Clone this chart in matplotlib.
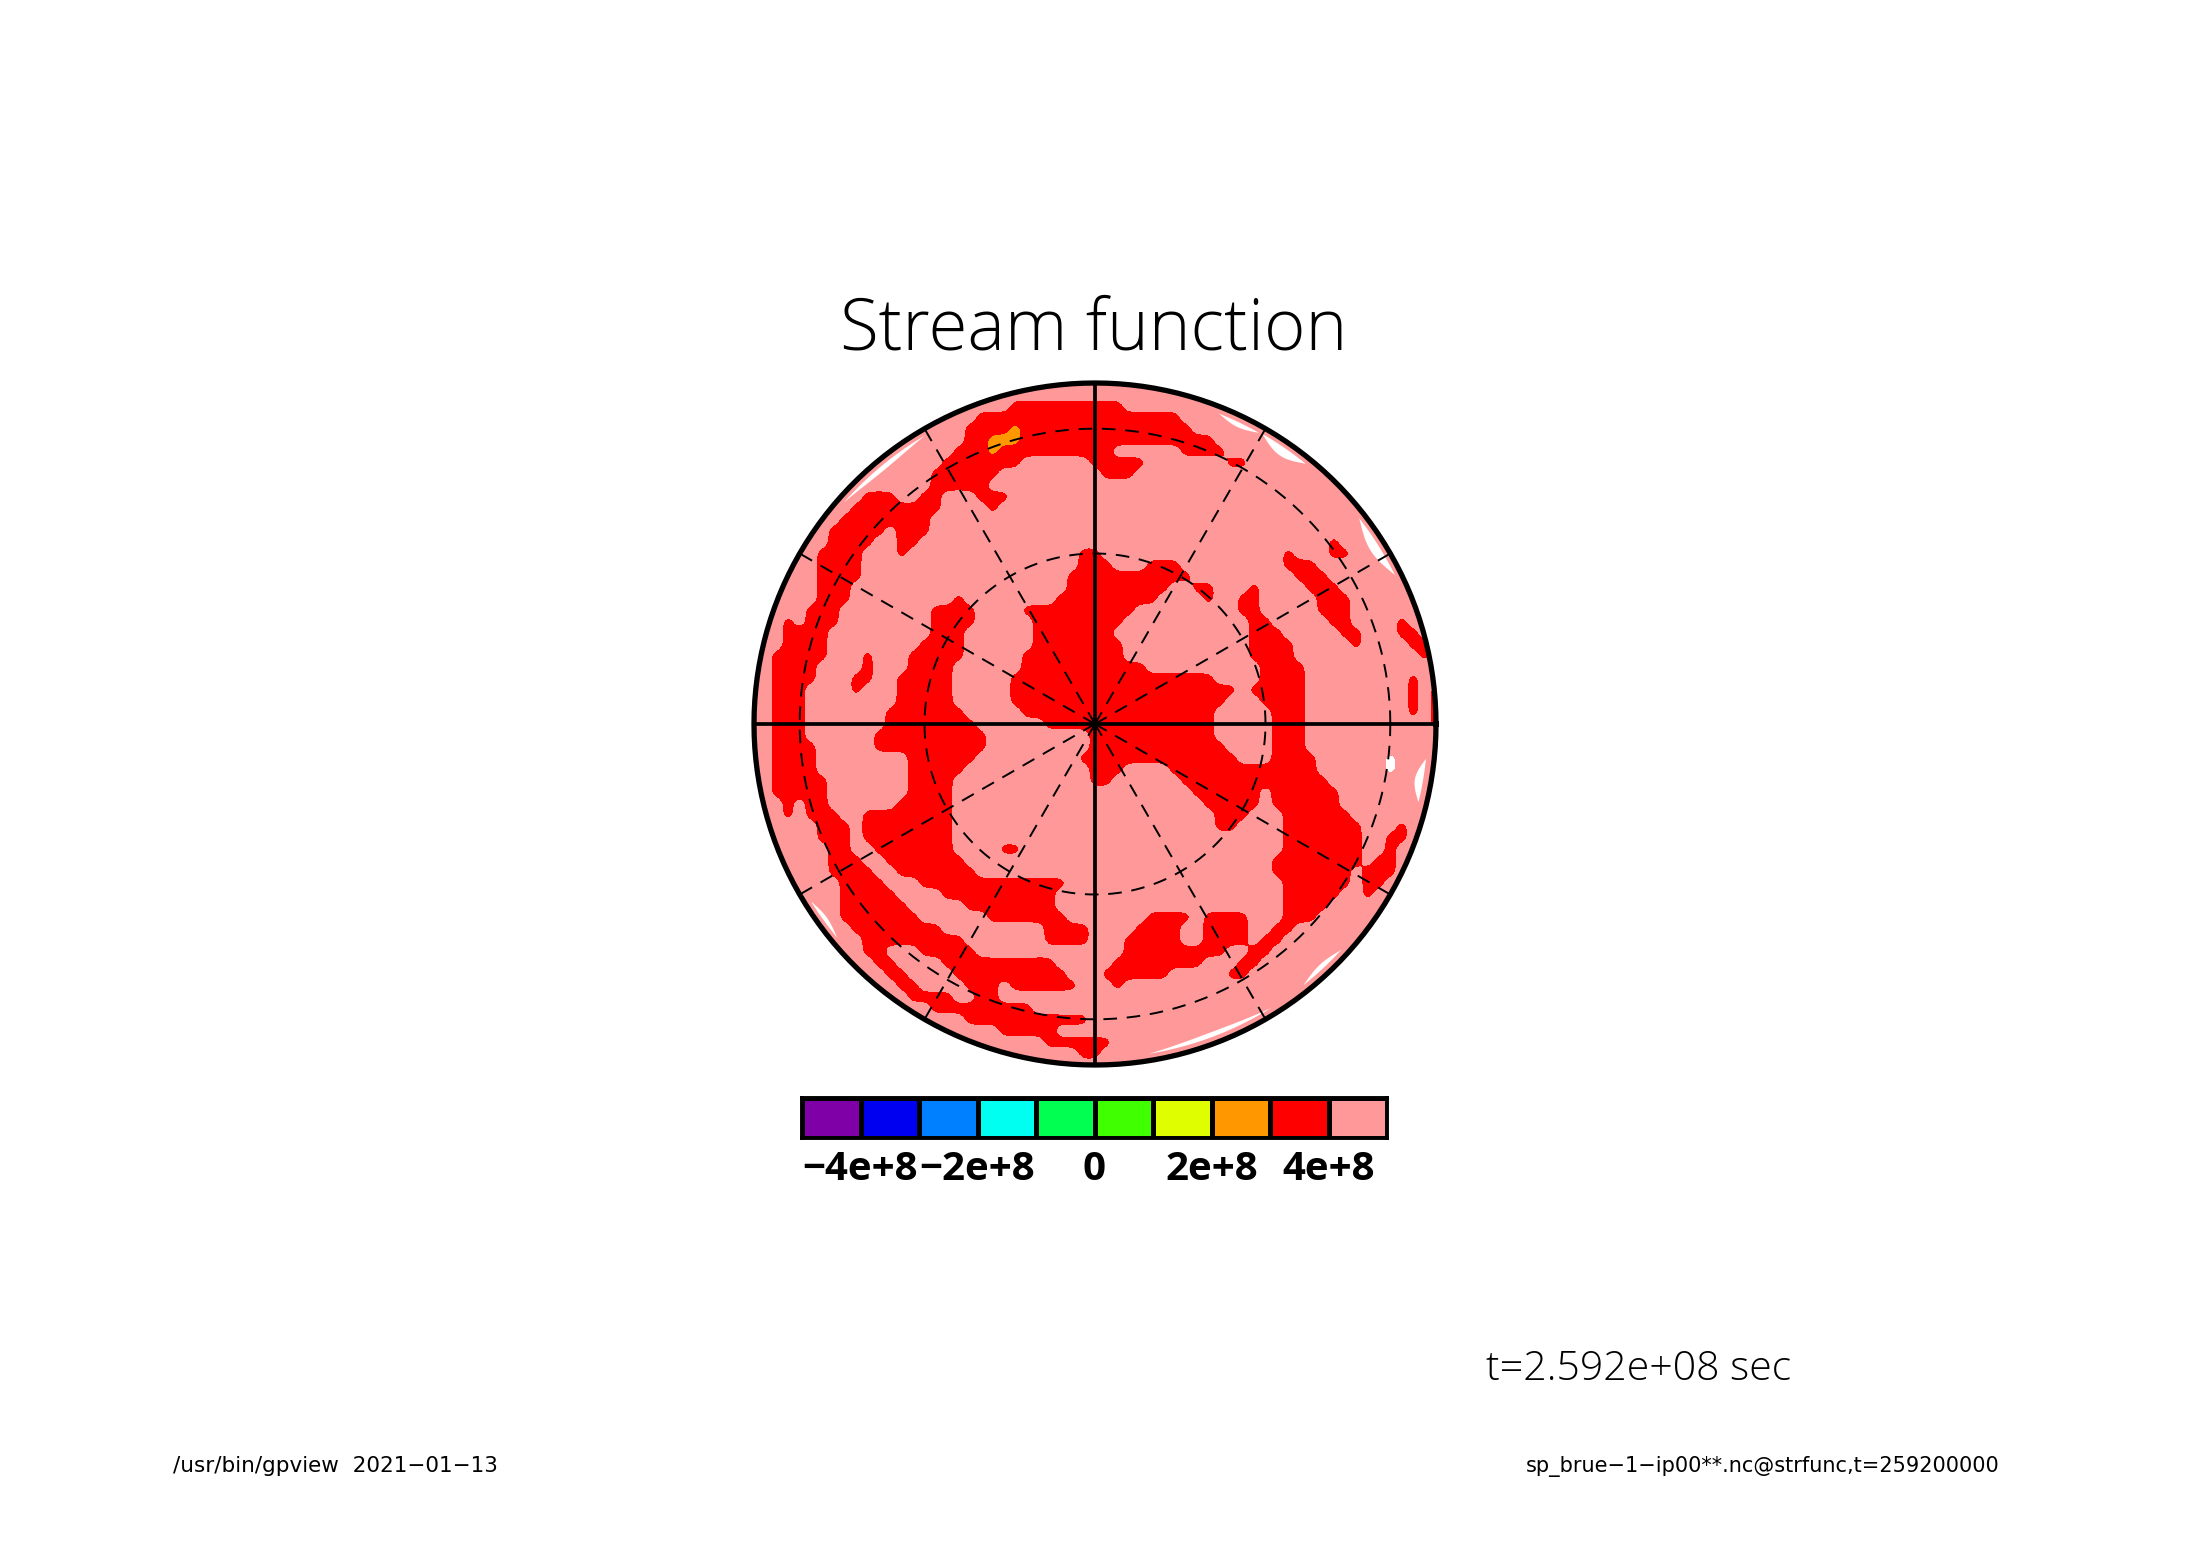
import numpy as np
import matplotlib
matplotlib.use('Agg')
import matplotlib.pyplot as plt
from matplotlib.colors import ListedColormap, BoundaryNorm
from matplotlib.patches import Circle

# shade levels of the stream function, units of 1e8
levels = [-5, -4, -3, -2, -1, 0, 1, 2, 3, 4, 5]
colors = ['#8000a8', '#0000f0', '#0080ff', '#00fff0', '#00ff50',
          '#40ff00', '#dfff00', '#ff9800', '#ff0000', '#ff9999']
tick_vals = [-4, -2, 0, 2, 4]
tick_labels = ['\u22124e+8', '\u22122e+8', '0', '2e+8', '4e+8']

# field on a 61x61 grid over the disc, row: runs of columns in the 3-4e8 shade,
# everything else in the 4-5e8 shade
n_grid = 61
pale_value = 4.5
red_value = 3.5
orange_value = 2.5
white_value = 5.5
red_runs = {
    2: [(23, 32)],
    3: [(20, 37)],
    4: [(19, 38)],
    5: [(19, 40)],
    6: [(18, 31), (38, 41)],
    7: [(17, 23), (30, 34), (42, 43)],
    8: [(16, 21), (31, 33)],
    9: [(16, 20)],
    10: [(10, 12), (15, 16), (20, 22)],
    11: [(9, 16), (21, 21)],
    12: [(8, 15)],
    13: [(7, 11), (13, 15)],
    14: [(7, 10), (13, 14), (51, 51)],
    15: [(6, 9), (13, 13), (29, 30), (47, 47), (51, 52)],
    16: [(6, 9), (29, 31), (35, 37), (47, 49)],
    17: [(6, 9), (28, 38), (48, 50)],
    18: [(6, 8), (28, 36), (39, 40), (44, 44), (49, 51)],
    19: [(6, 8), (18, 18), (27, 35), (40, 40), (43, 44), (50, 52)],
    20: [(5, 7), (16, 19), (24, 33), (43, 44), (50, 52)],
    21: [(3, 3), (5, 7), (16, 19), (25, 32), (44, 45), (51, 52), (57, 57)],
    22: [(3, 6), (16, 18), (25, 31), (44, 46), (52, 53), (57, 58)],
    23: [(3, 6), (15, 18), (25, 32), (44, 47), (53, 53), (58, 59)],
    24: [(2, 6), (10, 10), (14, 18), (24, 32), (44, 47), (59, 59)],
    25: [(2, 5), (10, 10), (14, 17), (24, 34), (45, 48)],
    26: [(2, 5), (9, 10), (13, 17), (23, 40), (45, 48), (58, 58)],
    27: [(2, 4), (9, 9), (13, 17), (23, 42), (44, 48), (58, 58), (60, 60)],
    28: [(2, 4), (13, 17), (23, 41), (45, 48), (58, 58), (60, 60)],
    29: [(2, 4), (12, 18), (24, 40), (46, 48), (58, 58), (60, 60)],
    30: [(2, 4), (12, 19), (26, 40), (46, 48), (60, 60)],
    31: [(2, 4), (11, 20), (30, 40), (46, 48)],
    32: [(2, 5), (11, 20), (30, 41), (46, 48)],
    33: [(2, 5), (14, 19), (29, 42), (46, 49)],
    34: [(2, 5), (14, 18), (30, 32), (37, 49)],
    35: [(2, 6), (14, 17), (30, 31), (38, 50)],
    36: [(2, 6), (14, 17), (39, 44), (46, 51)],
    37: [(3, 3), (5, 6), (13, 17), (40, 44), (46, 51)],
    38: [(3, 3), (5, 7), (10, 17), (41, 43), (47, 52)],
    39: [(6, 8), (10, 17), (41, 42), (47, 53), (57, 57)],
    40: [(6, 8), (10, 17), (47, 53), (56, 57)],
    41: [(7, 8), (11, 17), (22, 23), (47, 53), (56, 56)],
    42: [(7, 9), (12, 18), (46, 53), (55, 56)],
    43: [(7, 10), (13, 19), (46, 52), (54, 56)],
    44: [(8, 11), (15, 27), (47, 52), (54, 55)],
    45: [(8, 12), (17, 26), (47, 51), (54, 54)],
    46: [(8, 13), (19, 26), (47, 50)],
    47: [(8, 14), (21, 27), (35, 38), (40, 43), (47, 49)],
    48: [(9, 16), (26, 29), (34, 37), (40, 43), (46, 47)],
    49: [(10, 18), (26, 29), (33, 37), (40, 43), (45, 46)],
    50: [(10, 11), (15, 19), (33, 41), (44, 45)],
    51: [(11, 12), (17, 26), (32, 39), (43, 44)],
    52: [(12, 13), (18, 27), (31, 36), (42, 43)],
    53: [(13, 14), (19, 21), (23, 28), (32, 32)],
    54: [(14, 17), (20, 21)],
    55: [(16, 24)],
    56: [(19, 29)],
    57: [(22, 26)],
    58: [(26, 31)],
    59: [(29, 30)],
}
orange_cells = [(4, 23), (5, 21), (5, 22), (5, 23), (6, 21)]
white_cells = [(33, 56), (34, 56)]

# thin bands above 5e8 close to the rim (longitude in degrees, radius of the disc)
hot_lon0 = [120.5, 60.6, 51.0, 26.4, -13.6, -51.4, -80.8, 212.0]
hot_lon1 = [138.6, 68.2, 60.0, 37.9, -6.0, -42.5, -58.1, 219.6]
hot_r0 = [0.968, 0.966, 0.956, 0.955, 0.952, 0.966, 0.966, 0.970]
hot_r1 = [0.982, 0.980, 0.982, 0.982, 0.976, 0.980, 0.980, 0.982]

# graticule of the orthographic view
lat_circles = [30, 60]
lon_dashed = [30, 60, 120, 150, 210, 240, 300, 330]
lon_solid = [0, 90, 180, 270]

W, H = 2188, 1546
cx, cy, R = 1095, 724, 341


def soften(field, factor=4, sigma=1.8):
    # finer grid and a narrow blur, so that the shade edges do not show the cells
    fine = np.repeat(np.repeat(field, factor, axis=0), factor, axis=1)
    half = int(3 * sigma)
    kernel = np.exp(-0.5 * (np.arange(-half, half + 1) / sigma) ** 2)
    kernel /= kernel.sum()
    pad = np.pad(fine, half, mode='edge')
    pad = np.apply_along_axis(np.convolve, 0, pad, kernel, mode='valid')
    pad = np.apply_along_axis(np.convolve, 1, pad, kernel, mode='valid')
    return pad


fig = plt.figure(figsize=(W / 100, H / 100), dpi=100, facecolor='white')
ax = fig.add_axes([(cx - R) / W, 1 - (cy + R) / H, 2 * R / W, 2 * R / H])
ax.set_xlim(-1, 1)
ax.set_ylim(-1, 1)
ax.axis('off')

Z = np.full((n_grid, n_grid), pale_value)
for row, runs in red_runs.items():
    for first, last in runs:
        Z[row, first:last + 1] = red_value
for row, col in orange_cells:
    Z[row, col] = orange_value
for row, col in white_cells:
    Z[row, col] = white_value

Z_fine = soften(Z)
cell = 2 / (n_grid - 1)
n_fine = Z_fine.shape[0]
offs = (np.arange(n_fine) + 0.5) / n_fine * n_grid * cell - 1 - cell / 2
x = offs
y = -offs
cmap = ListedColormap(colors)
norm = BoundaryNorm(levels, cmap.N)
disc = Circle((0, 0), 1, transform=ax.transData, fc='none', ec='none')
ax.add_patch(disc)
cs = ax.contourf(x, y, Z_fine, levels=levels, cmap=cmap, norm=norm)
cs.set_clip_path(disc)

for lon0, lon1, r0, r1 in zip(hot_lon0, hot_lon1, hot_r0, hot_r1):
    t = np.linspace(0, 1, 40)
    th = np.radians(lon0 + (lon1 - lon0) * t)
    inner = r1 - (r1 - r0) * np.sin(np.pi * t)
    xs = np.r_[inner * np.cos(th), r1 * np.cos(th[::-1])]
    ys = np.r_[inner * np.sin(th), r1 * np.sin(th[::-1])]
    ax.fill(xs, ys, color='white', lw=0, zorder=3)

th = np.linspace(0, 2 * np.pi, 361)
for lat in lat_circles:
    r = np.cos(np.radians(lat))
    ax.plot(r * np.cos(th), r * np.sin(th), color='k', lw=1.4,
            dashes=(7, 5), zorder=4)
for lon in lon_dashed:
    a = np.radians(lon)
    ax.plot([0, np.cos(a)], [0, np.sin(a)], color='k', lw=1.4,
            dashes=(7, 5), zorder=4)
for lon in lon_solid:
    a = np.radians(lon)
    ax.plot([0, np.cos(a)], [0, np.sin(a)], color='k', lw=2.7,
            solid_capstyle='butt', zorder=5)
ax.plot(np.cos(th), np.sin(th), color='k', lw=3.8, clip_on=False, zorder=6)

# colour bar
bar_left, bar_right, bar_top, bar_bot = 802, 1387, 1098, 1138
cax = fig.add_axes([bar_left / W, 1 - bar_bot / H,
                    (bar_right - bar_left) / W, (bar_bot - bar_top) / H])
mids = np.array(levels[:-1]) + 0.5
cax.pcolormesh(levels, [0, 1], mids[np.newaxis, :], cmap=cmap, norm=norm,
               edgecolors='k', linewidth=2.4)
cax.set_yticks([])
cax.set_xticks(tick_vals)
cax.set_xticklabels(tick_labels, fontsize=29, fontweight='bold',
                    family='Open Sans')
cax.tick_params(axis='x', length=0, pad=9)
for spine in cax.spines.values():
    spine.set_linewidth(2.8)

fig.text(1094 / W, 1 - 349 / H, 'Stream function', ha='center', va='baseline',
         fontsize=51, family='Open Sans', fontweight='light')
fig.text(1486 / W, 1 - 1380 / H, 't=2.592e+08 sec', ha='left', va='baseline',
         fontsize=29.5, family='Open Sans', fontweight='light')
fig.text(173 / W, 1 - 1472 / H, '/usr/bin/gpview  2021\u221201\u221213', ha='left',
         va='baseline', fontsize=15.5, family='DejaVu Sans')
fig.text(1526 / W, 1 - 1472 / H, 'sp_brue\u22121\u2212ip00**.nc@strfunc,t=259200000',
         ha='left', va='baseline', fontsize=15, family='DejaVu Sans')

fig.savefig('out.png', dpi=100)
